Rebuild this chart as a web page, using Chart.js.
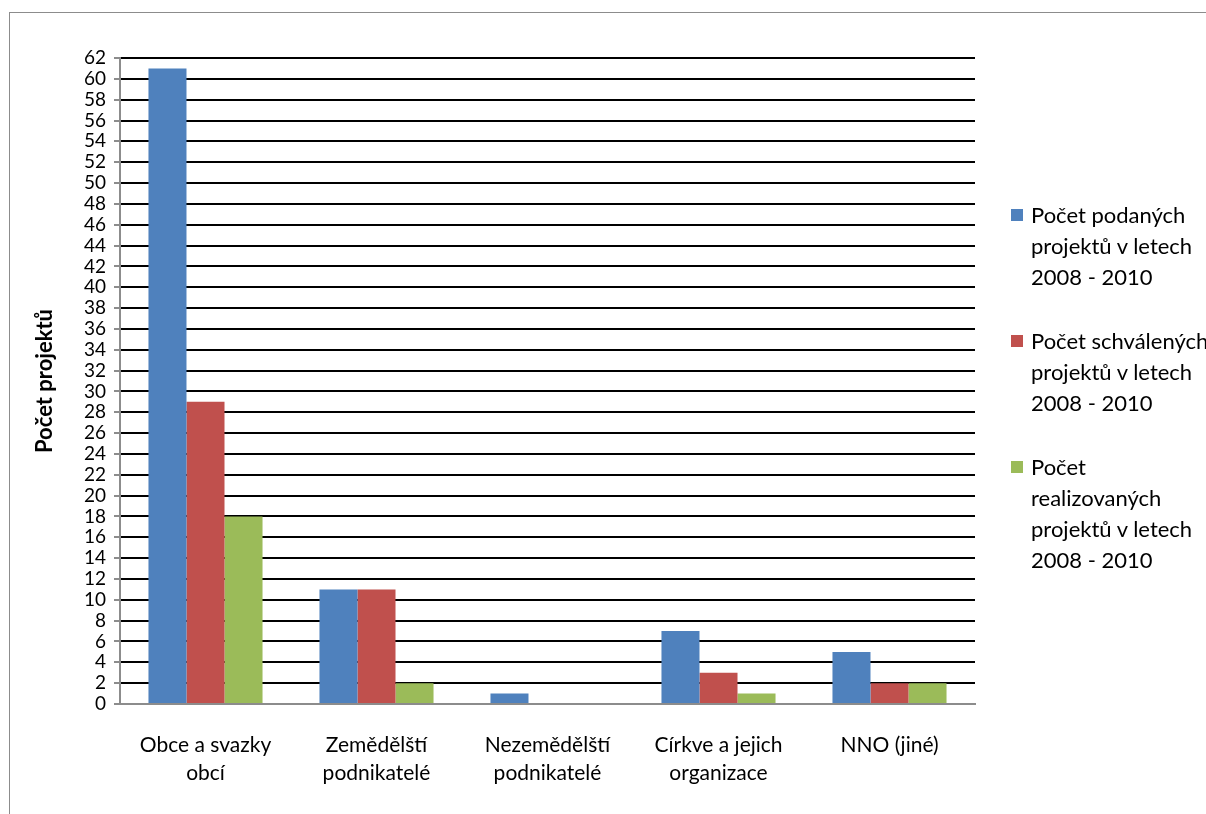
<!DOCTYPE html>
<html>
<head>
<meta charset="utf-8">
<script src="https://cdn.jsdelivr.net/npm/chart.js@4.4.1/dist/chart.umd.min.js"></script>
<style>
  html, body { margin: 0; padding: 0; background: #fff; overflow: hidden; }
  #wrap { position: relative; width: 1206px; height: 814px; }
  #frame {
    position: absolute; left: 9px; top: 12px; width: 1300px; height: 900px;
    border: 1px solid #8c8c8c; box-sizing: border-box;
  }
  canvas { position: absolute; left: 0; top: 0; }
  #legend {
    position: absolute; left: 1011px; top: 199px;
    font-family: Lato, "Open Sans", sans-serif; font-size: 22px; line-height: 31px;
    color: #000; white-space: nowrap;
  }
  .item { position: relative; padding-left: 20px; margin-bottom: 33px; }
  .box { position: absolute; left: 0; top: 10px; width: 12px; height: 12px; }
</style>
</head>
<body>
<div id="wrap">
  <div id="frame"></div>
  <canvas id="chart" width="1206" height="814"></canvas>
  <div id="legend"></div>
</div>
<script>
// chart data
const categories = [
  ["Obce a svazky", "obcí"],
  ["Zemědělští", "podnikatelé"],
  ["Nezemědělští", "podnikatelé"],
  ["Církve a jejich", "organizace"],
  "NNO (jiné)"
];
const podane = [61, 11, 1, 7, 5];
const schvalene = [29, 11, 0, 3, 2];
const realizovane = [18, 2, 0, 1, 2];

// legend names, one line per entry of the array
const seriesNames = [
  ["Počet podaných", "projektů v letech", "2008 - 2010"],
  ["Počet schválených", "projektů v letech", "2008 - 2010"],
  ["Počet", "realizovaných", "projektů v letech", "2008 - 2010"]
];
const colors = ["#4F81BD", "#C0504D", "#9BBB59"];

const font = "Lato, 'Open Sans', sans-serif";

const chart = new Chart(document.getElementById("chart"), {
  type: "bar",
  data: {
    labels: categories,
    datasets: [podane, schvalene, realizovane].map((vals, i) => ({
      label: seriesNames[i].join(" "),
      data: vals,
      backgroundColor: colors[i],
      borderWidth: 0,
      barPercentage: 1,
      categoryPercentage: 0.667
    }))
  },
  options: {
    responsive: false,
    animation: false,
    layout: { padding: { left: 22, top: 58, right: 231, bottom: 0 } },
    plugins: {
      legend: { display: false },
      tooltip: { enabled: false }
    },
    scales: {
      x: {
        grid: { display: false, drawTicks: false },
        border: { display: true, color: "#8c8c8c", width: 2 },
        ticks: {
          color: "#000",
          font: { family: font, size: 21, lineHeight: 1.3 },
          padding: 28,
          maxRotation: 0,
          autoSkip: false
        },
        afterFit: (scale) => { scale.height = 110; }
      },
      y: {
        min: 0,
        max: 62,
        ticks: {
          stepSize: 2,
          autoSkip: false,
          color: "#000",
          font: { family: font, size: 19 },
          padding: 8
        },
        grid: {
          color: (ctx) => ctx.tick && ctx.tick.value === 0 ? "#8c8c8c" : "#000",
          lineWidth: 2,
          tickLength: 6,
          tickColor: "#8c8c8c"
        },
        border: { display: true, color: "#8c8c8c", width: 2 },
        title: {
          display: true,
          text: "Počet projektů",
          color: "#000",
          font: { family: font, size: 22, weight: "bold" },
          padding: { top: 10, bottom: 0 }
        },
        afterFit: (scale) => { scale.width = 98; }
      }
    }
  }
});

// html legend
const legend = document.getElementById("legend");
seriesNames.forEach((lines, i) => {
  const item = document.createElement("div");
  item.className = "item";
  const box = document.createElement("span");
  box.className = "box";
  box.style.background = colors[i];
  item.appendChild(box);
  lines.forEach(t => {
    const l = document.createElement("div");
    l.textContent = t;
    item.appendChild(l);
  });
  legend.appendChild(item);
});
</script>
</body>
</html>
